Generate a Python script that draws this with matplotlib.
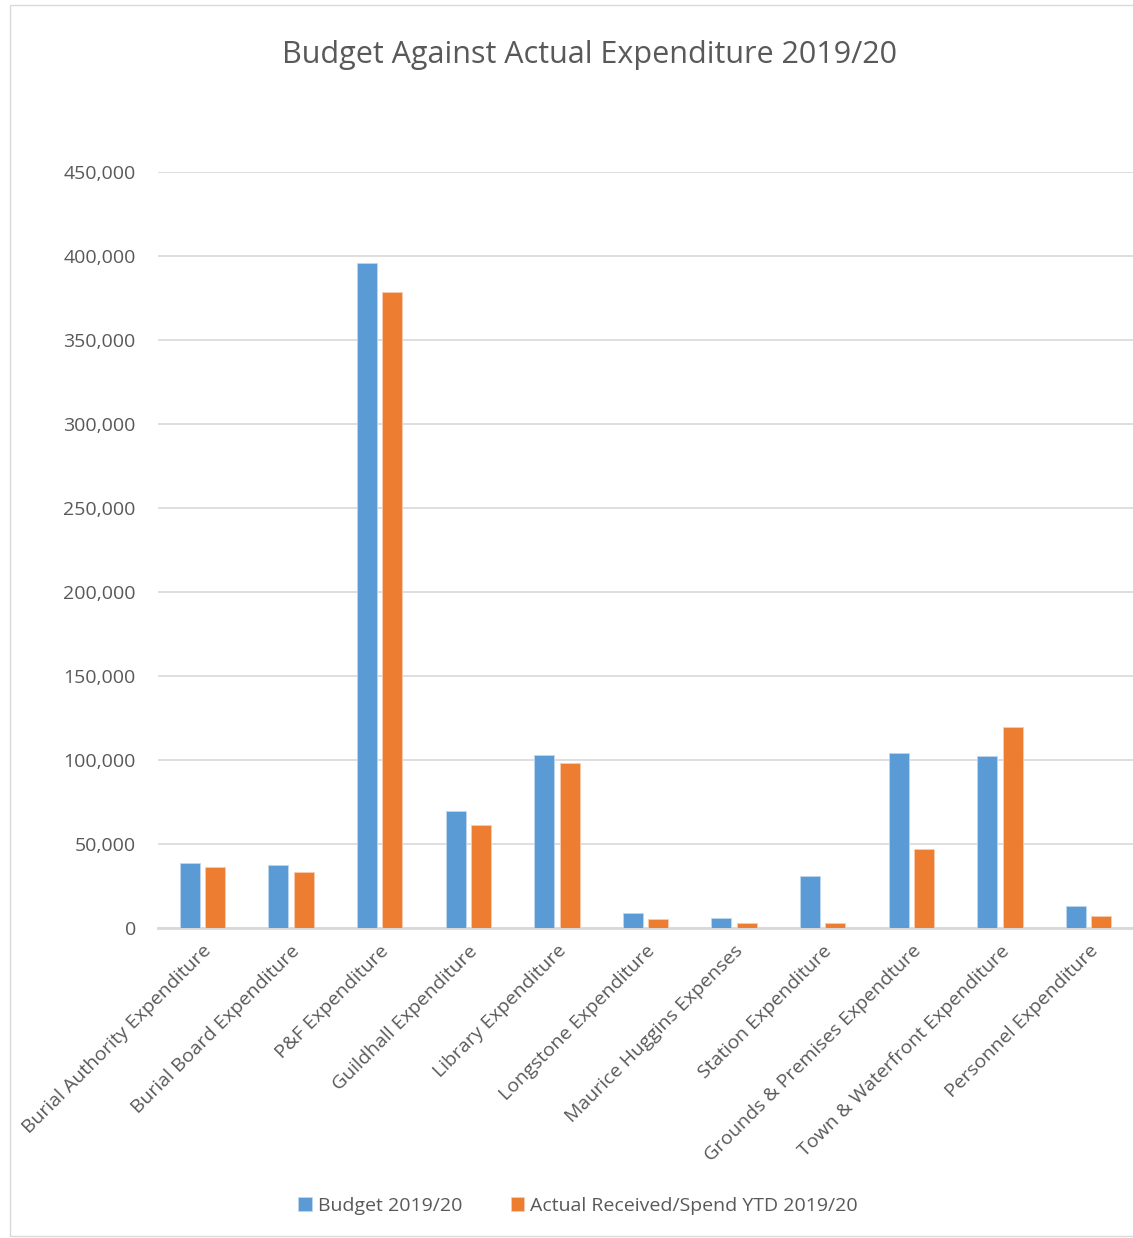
import matplotlib.pyplot as plt
import numpy as np
from matplotlib.ticker import FuncFormatter, MultipleLocator
from matplotlib.patches import Rectangle

# chart data
categories = ['Burial Authority Expenditure', 'Burial Board Expenditure', 'P&F Expenditure',
              'Guildhall Expenditure', 'Library Expenditure', 'Longstone Expenditure',
              'Maurice Huggins Expenses', 'Station Expenditure', 'Grounds & Premises Expendture',
              'Town & Waterfront Expenditure', 'Personnel Expenditure']
budget = [38400, 37600, 395600, 69600, 102800, 9200, 5800, 31200, 104400, 102400, 13000]
actual = [36500, 33100, 378700, 61500, 98000, 5600, 3000, 3200, 47100, 119400, 7400]
series_names = ['Budget 2019/20', 'Actual Received/Spend YTD 2019/20']

blue = '#5B9BD5'
orange = '#ED7D31'
grey = '#595959'

plt.rcParams['font.family'] = ['Open Sans', 'DejaVu Sans']

W, H = 1133, 1238
fig = plt.figure(figsize=(W / 100, H / 100), dpi=100)
ax = fig.add_axes([158 / W, 1 - 928 / H, (1133 - 158) / W, (928 - 172) / H])

x = np.arange(len(categories))
bw = 0.226
off = 0.143
ax.bar(x - off, budget, bw, color=blue, edgecolor='#BDD7EE', linewidth=0.6, label=series_names[0], zorder=3)
ax.bar(x + off, actual, bw, color=orange, edgecolor='#F8CBAD', linewidth=0.6, label=series_names[1], zorder=3)

ax.set_xlim(-0.5, len(categories) - 0.5)
ax.set_ylim(0, 450000)
ax.yaxis.set_major_locator(MultipleLocator(50000))
ax.yaxis.set_major_formatter(FuncFormatter(lambda v, p: '{:,.0f}'.format(v)))
ax.grid(axis='y', color='#D9D9D9', linewidth=1.2, zorder=0)
for s in ['top', 'right', 'left']:
    ax.spines[s].set_visible(False)
ax.spines['bottom'].set_color('#D9D9D9')
ax.spines['bottom'].set_linewidth(2)
ax.tick_params(axis='both', length=0, colors=grey, labelsize=14)
ax.tick_params(axis='y', pad=16)
ax.set_xticks(x)
ax.set_xticklabels(categories, rotation=45, ha='right', va='top', rotation_mode='anchor')
ax.tick_params(axis='x', pad=10)

fig.text(590 / W, 1 - 55 / H, 'Budget Against Actual Expenditure 2019/20', ha='center', va='center',
         fontsize=22, color=grey)

fig.legend(loc='center', bbox_to_anchor=(578 / W, 1 - 1206 / H), ncol=2, frameon=False,
           fontsize=14, handlelength=0.7, handleheight=0.7, handletextpad=0.3, columnspacing=2.5,
           labelcolor=grey)

fig.patches.append(Rectangle((10 / W, 2 / H), 1.2, 1 - 7 / H, transform=fig.transFigure,
                             fill=False, edgecolor='#D9D9D9', linewidth=1))

fig.savefig('out.png', dpi=100)
